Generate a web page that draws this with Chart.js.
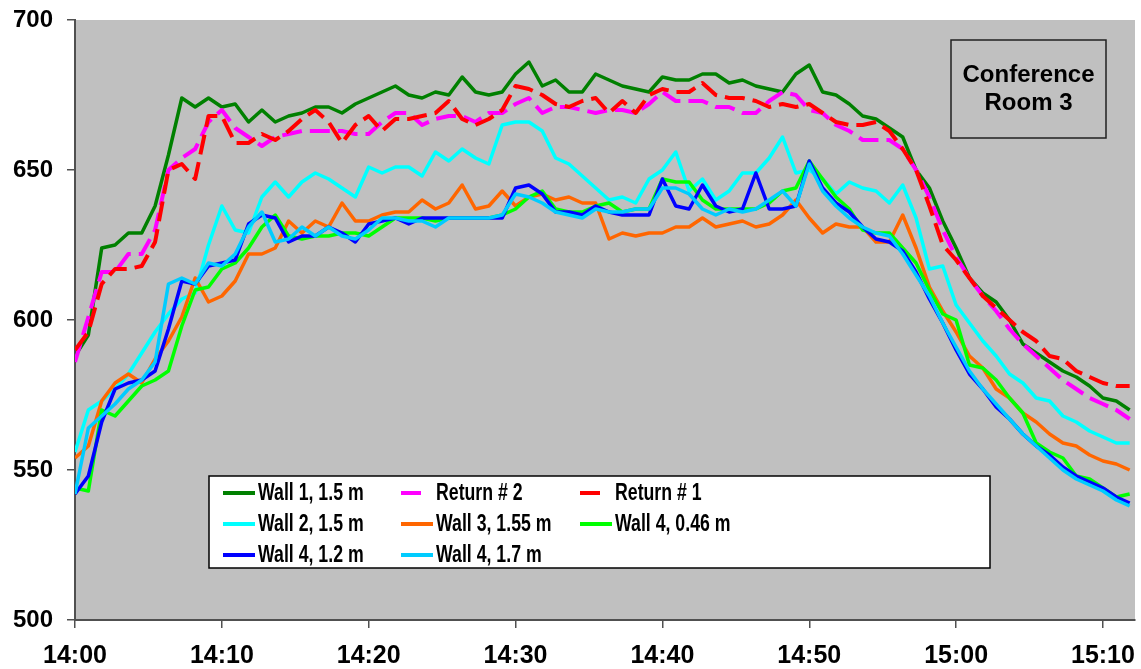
<!DOCTYPE html>
<html>
<head>
<meta charset="utf-8">
<title>Conference Room 3</title>
<script src="https://cdn.jsdelivr.net/npm/chart.js@4.4.1/dist/chart.umd.min.js"></script>
<style>
  html, body { margin: 0; padding: 0; background: #fff; }
  #wrap { width: 1141px; height: 669px; }
</style>
</head>
<body>
<div id="wrap"><canvas id="chart" width="1141" height="669"></canvas></div>
<script>
// ======== data ========
// logger samples every 10/11 min (~55 s), starting 14:00
const SAMPLE_MINUTES = 10 / 11;
const START_HOUR = 14;
const xTickMinutes = [0, 10, 20, 30, 40, 50, 60, 70];
const yTicks = [500, 550, 600, 650, 700];

const seriesNames = [
    'Wall 1, 1.5 m', 'Return # 2', 'Return # 1',
    'Wall 2, 1.5 m', 'Wall 3, 1.55 m', 'Wall 4, 0.46 m',
    'Wall 4, 1.2 m', 'Wall 4, 1.7 m'
];

const wall1 = [588, 595, 624, 625, 629, 629, 638, 655, 674, 671,
    674, 671, 672, 666, 670, 666, 668, 669, 671, 671,
    669, 672, 674, 676, 678, 675, 674, 676, 675, 681,
    676, 675, 676, 682, 686, 678, 680, 676, 676, 682,
    680, 678, 677, 676, 681, 680, 680, 682, 682, 679,
    680, 678, 677, 676, 682, 685, 676, 675, 672, 668,
    667, 664, 661, 650, 644, 633, 624, 614, 609, 606,
    600, 592, 589, 586, 583, 581, 578, 574, 573, 570];

const return2 = [586, 601, 616, 616, 622, 622, 630, 650, 654, 657,
    666, 670, 664, 661, 658, 661, 662, 663, 663, 663,
    663, 662, 662, 666, 669, 669, 665, 667, 668, 668,
    666, 669, 669, 672, 674, 669, 671, 671, 670, 669,
    670, 670, 669, 672, 676, 673, 673, 673, 671, 671,
    669, 669, 673, 676, 675, 670, 669, 665, 663, 660,
    660, 660, 657, 650, 641, 630, 621, 614, 608, 603,
    597, 592, 588, 584, 580, 577, 574, 572, 570, 567];

const return1 = [590, 596, 612, 617, 617, 618, 626, 650, 652, 647,
    668, 668, 659, 659, 662, 660, 663, 667, 670, 666,
    659, 665, 668, 663, 667, 667, 668, 669, 673, 667,
    665, 667, 670, 678, 677, 675, 672, 671, 673, 674,
    669, 673, 669, 675, 677, 676, 676, 679, 675, 674,
    674, 673, 671, 672, 671, 672, 669, 666, 665, 665,
    666, 663, 657, 650, 638, 625, 620, 614, 608, 604,
    600, 596, 593, 588, 587, 583, 581, 579, 578, 578];

const wall2 = [556, 570, 573, 577, 582, 589, 596, 602, 607, 609,
    625, 638, 630, 629, 641, 646, 641, 646, 649, 647,
    644, 641, 651, 649, 651, 651, 648, 656, 653, 657,
    654, 652, 665, 666, 666, 663, 654, 652, 648, 644,
    640, 641, 639, 647, 650, 656, 643, 647, 640, 643,
    649, 649, 654, 661, 649, 650, 647, 642, 646, 644,
    643, 639, 645, 634, 617, 618, 605, 599, 593, 588,
    582, 579, 574, 573, 568, 566, 563, 561, 559, 559];

const wall3 = [554, 558, 573, 579, 582, 579, 587, 593, 601, 614,
    606, 608, 613, 622, 622, 624, 633, 629, 633, 631,
    639, 633, 633, 635, 636, 636, 640, 637, 639, 645,
    637, 638, 643, 638, 641, 642, 640, 641, 639, 639,
    627, 629, 628, 629, 629, 631, 631, 634, 631, 632,
    633, 631, 632, 635, 640, 634, 629, 632, 631, 631,
    626, 626, 635, 624, 611, 603, 596, 588, 584, 577,
    574, 569, 566, 562, 559, 558, 555, 553, 552, 550];

const wall4Low = [544, 543, 570, 568, 573, 578, 580, 583, 598, 610,
    611, 617, 619, 624, 631, 635, 628, 627, 628, 628,
    629, 629, 628, 631, 634, 634, 634, 633, 634, 634,
    634, 634, 635, 637, 641, 643, 637, 636, 636, 638,
    639, 636, 637, 637, 647, 646, 646, 640, 637, 637,
    637, 637, 639, 643, 644, 653, 647, 641, 637, 630,
    629, 629, 624, 619, 610, 602, 600, 585, 584, 580,
    574, 569, 559, 556, 554, 548, 547, 544, 541, 542];

const wall4Mid = [542, 548, 566, 577, 579, 580, 583, 597, 613, 612,
    618, 619, 620, 632, 635, 634, 626, 628, 628, 631,
    629, 626, 632, 633, 634, 632, 634, 634, 634, 634,
    634, 634, 634, 644, 645, 642, 636, 636, 635, 638,
    636, 635, 635, 635, 647, 638, 637, 645, 638, 636,
    637, 649, 637, 637, 638, 653, 644, 639, 636, 631,
    627, 626, 623, 616, 607, 599, 590, 582, 577, 571,
    567, 562, 558, 555, 551, 548, 546, 544, 541, 539];

const wall4High = [542, 564, 568, 572, 577, 580, 586, 612, 614, 612,
    619, 618, 622, 631, 636, 626, 627, 631, 628, 631,
    628, 627, 630, 634, 634, 633, 633, 631, 634, 634,
    634, 634, 635, 642, 641, 639, 636, 635, 634, 637,
    636, 636, 637, 637, 644, 644, 642, 637, 635, 637,
    636, 637, 640, 643, 638, 652, 643, 638, 634, 631,
    629, 628, 622, 615, 608, 599, 591, 583, 577, 572,
    567, 562, 558, 554, 550, 547, 545, 543, 540, 538];

const seriesValues = [wall1, return2, return1, wall2, wall3, wall4Low, wall4Mid, wall4High];
const seriesColors = ['#008000', '#FF00FF', '#FF0000', '#00FFFF', '#FF6600', '#00FF00', '#0000FF', '#00CCFF'];
const seriesDashed = [false, true, true, false, false, false, false, false];

// ======== helpers ========
function timeLabel(min) {
    const total = START_HOUR * 60 + Math.round(min);
    const h = Math.floor(total / 60);
    const m = total % 60;
    return h + ':' + String(m).padStart(2, '0');
}

const FONT_FAMILY = '"Liberation Sans", Arial, sans-serif';
const AXIS_COLOR = '#505050';

// gray plot area
const plotBackground = {
    id: 'plotBackground',
    beforeDraw(chart) {
        const a = chart.chartArea;
        const ctx = chart.ctx;
        ctx.save();
        ctx.fillStyle = '#C0C0C0';
        ctx.fillRect(a.left, a.top, a.right - a.left, a.bottom - a.top);
        ctx.restore();
    }
};

// legend box inside the plot + title box
const boxes = {
    id: 'boxes',
    afterDraw(chart) {
        const ctx = chart.ctx;
        ctx.save();

        // legend
        ctx.fillStyle = '#fff';
        ctx.fillRect(209, 476, 781, 92);
        ctx.strokeStyle = '#000';
        ctx.lineWidth = 1.5;
        ctx.strokeRect(209, 476, 781, 92);

        const colX = [223, 401, 580];
        const rowY = [493, 524, 555];
        ctx.font = 'bold 23px ' + FONT_FAMILY;
        ctx.textBaseline = 'middle';
        ctx.textAlign = 'left';
        seriesNames.forEach((name, i) => {
            const r = Math.floor(i / 3), c = i % 3;
            const x = colX[c], y = rowY[r];
            ctx.beginPath();
            ctx.strokeStyle = seriesColors[i];
            ctx.lineWidth = 4;
            ctx.lineCap = 'butt';
            ctx.moveTo(x, y);
            ctx.lineTo(seriesDashed[i] ? x + 20 : x + 32, y);
            ctx.stroke();

            // condensed bold text, like the narrow legend font
            ctx.save();
            ctx.translate(x + 35, y + 1);
            ctx.scale(0.77, 1);
            ctx.fillStyle = '#000';
            ctx.fillText(name, 0, 0);
            ctx.restore();
        });

        // "Conference Room 3"
        ctx.fillStyle = '#C0C0C0';
        ctx.fillRect(951, 40, 155, 98);
        ctx.strokeStyle = '#202020';
        ctx.lineWidth = 1.5;
        ctx.strokeRect(951, 40, 155, 98);
        ctx.fillStyle = '#000';
        ctx.textAlign = 'center';
        ctx.font = 'bold 24px ' + FONT_FAMILY;
        ctx.fillText('Conference', 1028.5, 75);
        ctx.fillText('Room 3', 1028.5, 103);

        ctx.restore();
    }
};

const datasets = seriesValues.map((vals, i) => ({
    label: seriesNames[i],
    data: vals.map((v, k) => ({ x: k * SAMPLE_MINUTES, y: v })),
    borderColor: seriesColors[i],
    backgroundColor: seriesColors[i],
    borderWidth: seriesDashed[i] ? 4 : 3.5,
    borderDash: seriesDashed[i] ? [20, 8] : [],
    borderCapStyle: 'butt',
    borderJoinStyle: 'round',
    pointRadius: 0,
    tension: 0,
    fill: false,
    order: seriesValues.length - i   // later series drawn on top, like Excel
}));

new Chart(document.getElementById('chart'), {
    type: 'line',
    data: { datasets: datasets },
    options: {
        responsive: false,
        animation: false,
        devicePixelRatio: 1,
        layout: { padding: { left: 0, top: 20, right: 6, bottom: 0 } },
        plugins: {
            legend: { display: false },
            tooltip: { enabled: false },
            title: { display: false }
        },
        scales: {
            x: {
                type: 'linear',
                min: 0,
                max: 79.4 * SAMPLE_MINUTES,
                afterBuildTicks: (scale) => { scale.ticks = xTickMinutes.map(v => ({ value: v })); },
                afterFit: (scale) => {
                    scale.height = 49;
                    scale.paddingLeft = 0;
                    scale.paddingRight = 0;
                },
                ticks: {
                    autoSkip: false,
                    maxRotation: 0,
                    padding: 13,
                    color: '#000',
                    font: { family: FONT_FAMILY, size: 25, weight: 'bold' },
                    callback: (v) => timeLabel(v)
                },
                grid: { drawOnChartArea: false, drawTicks: true, tickLength: 8, color: AXIS_COLOR, lineWidth: 1.5 },
                border: { display: true, color: AXIS_COLOR, width: 2 }
            },
            y: {
                min: 500,
                max: 700,
                afterBuildTicks: (scale) => { scale.ticks = yTicks.map(v => ({ value: v })); },
                afterFit: (scale) => {
                    scale.width = 75;
                    scale.paddingTop = 0;
                    scale.paddingBottom = 0;
                },
                ticks: {
                    padding: 14,
                    color: '#000',
                    font: { family: FONT_FAMILY, size: 24, weight: 'bold' }
                },
                grid: { drawOnChartArea: false, drawTicks: true, tickLength: 8, color: AXIS_COLOR, lineWidth: 1.5 },
                border: { display: true, color: AXIS_COLOR, width: 2 }
            }
        }
    },
    plugins: [plotBackground, boxes]
});
</script>
</body>
</html>
